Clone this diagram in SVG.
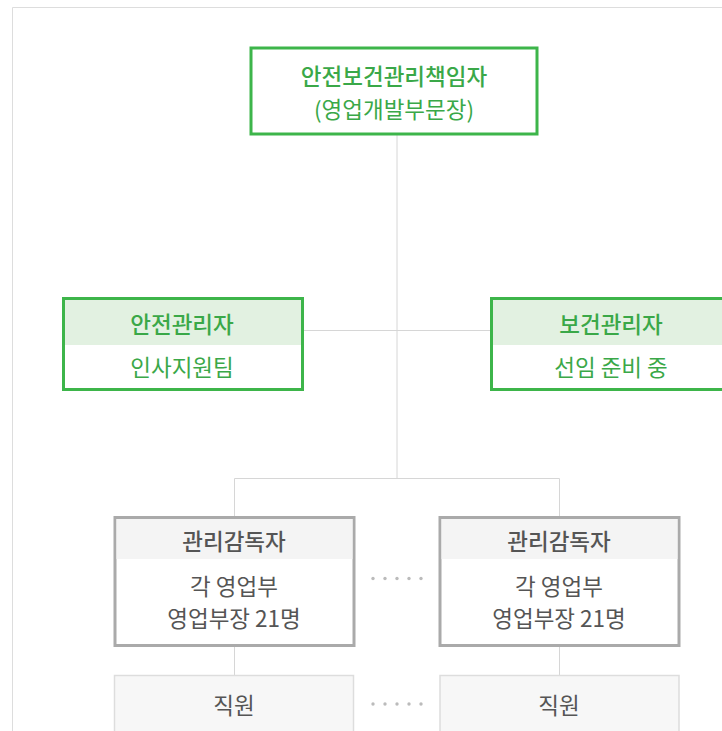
<svg xmlns="http://www.w3.org/2000/svg" width="722" height="731" viewBox="0 0 722 731">
<style>
text{font-family:"Noto Sans CJK KR","Noto Sans",sans-serif;font-size:22.5px;text-anchor:middle;dominant-baseline:central}
.h{font-weight:500}
.g{fill:#3aa848}
.k{fill:#555555}
.line{stroke:#d6d6d6;stroke-width:1;fill:none}
.gbox{fill:#ffffff;stroke:#3db54a;stroke-width:3}
.ghead{fill:#e2f1e1}
.kbox{fill:#ffffff;stroke:#aaaaaa;stroke-width:3}
.khead{fill:#f4f4f4}
.ebox{fill:#f7f7f7;stroke:#dddddd;stroke-width:1.5}
.dot{fill:#bbbbbb}
</style>
<rect x="0" y="0" width="722" height="731" fill="#ffffff"/>
<path d="M12.5 731 V7.5 H722" stroke="#dddddd" stroke-width="1" fill="none"/>
<g id="connectors">
<path class="line" d="M397 134 V478"/>
<path class="line" d="M303 330.5 H490"/>
<path class="line" d="M234.5 517 V478.5 H559.5 V517"/>
<path class="line" d="M234.5 646 V676"/>
<path class="line" d="M559.5 646 V676"/>
</g>
<g id="top">
<rect class="gbox" x="251" y="48" width="286" height="86"/>
<text class="g h" x="394" y="75">안전보건관리책임자</text>
<text class="g" x="394" y="108">(영업개발부문장)</text>
</g>
<g id="safety">
<rect class="gbox" x="63.5" y="298.5" width="239" height="91"/>
<rect class="ghead" x="65" y="300" width="236" height="45"/>
<text class="g h" x="182" y="323">안전관리자</text>
<text class="g" x="182" y="366">인사지원팀</text>
</g>
<g id="health">
<rect class="gbox" x="491.5" y="298.5" width="239" height="91"/>
<rect class="ghead" x="493" y="300" width="236" height="45"/>
<text class="g h" x="611" y="323">보건관리자</text>
<text class="g" x="611" y="366">선임 준비 중</text>
</g>
<g id="sup1">
<rect class="kbox" x="115" y="517.5" width="239" height="128"/>
<rect class="khead" x="116.5" y="519" width="236" height="40"/>
<text class="k h" x="234" y="540">관리감독자</text>
<text class="k" x="234" y="585">각 영업부</text>
<text class="k" x="234" y="617">영업부장 21명</text>
</g>
<g id="sup2">
<rect class="kbox" x="440" y="517.5" width="239" height="128"/>
<rect class="khead" x="441.5" y="519" width="236" height="40"/>
<text class="k h" x="559" y="540">관리감독자</text>
<text class="k" x="559" y="585">각 영업부</text>
<text class="k" x="559" y="617">영업부장 21명</text>
</g>
<g id="dots1">
<circle class="dot" cx="373" cy="578.5" r="1.7"/><circle class="dot" cx="385" cy="578.5" r="1.7"/><circle class="dot" cx="397" cy="578.5" r="1.7"/><circle class="dot" cx="409" cy="578.5" r="1.7"/><circle class="dot" cx="421" cy="578.5" r="1.7"/>
</g>
<g id="emp1">
<rect class="ebox" x="114.5" y="675.5" width="239" height="70"/>
<text class="k" x="234" y="704">직원</text>
</g>
<g id="emp2">
<rect class="ebox" x="440" y="675.5" width="239" height="70"/>
<text class="k" x="559" y="704">직원</text>
</g>
<g id="dots2">
<circle class="dot" cx="373" cy="704" r="1.7"/><circle class="dot" cx="385" cy="704" r="1.7"/><circle class="dot" cx="397" cy="704" r="1.7"/><circle class="dot" cx="409" cy="704" r="1.7"/><circle class="dot" cx="421" cy="704" r="1.7"/>
</g>
</svg>
